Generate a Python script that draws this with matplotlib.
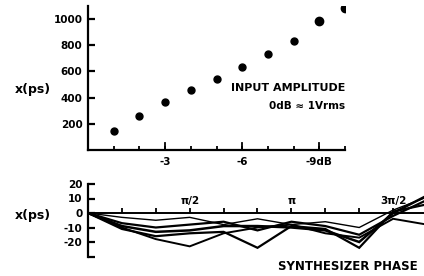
import numpy as np
import matplotlib
matplotlib.use("Agg")
import matplotlib.pyplot as plt

# top panel: delay vs input amplitude
amp_db = [-1, -2, -3, -4, -5, -6, -7, -8, -9, -10]
delay_ps = [144, 258, 365, 456, 540, 631, 730, 829, 988, 1087]
amp_ticks = [-1, -2, -3, -4, -5, -6, -7, -8, -9, -10]
amp_major = [-3, -6, -9]
amp_labels = ["-3", "-6", "-9dB"]
delay_ticks = [200, 400, 600, 800, 1000]

# bottom panel: delay vs synthesizer phase (steps of pi/6)
phase_steps = [0, 1, 2, 3, 4, 5, 6, 7, 8, 9, 10]
phase_lines = [
    [0, -3, -5, -3, -8, -4, -8, -6, -10, 2, 11],
    [0, -7, -10, -8, -6, -12, -6, -9, -15, -2, 9],
    [0, -9, -13, -12, -9, -9, -10, -12, -20, 0, 12],
    [0, -10, -18, -23, -14, -10, -8, -14, -17, -4, -8],
    [0, -11, -16, -14, -13, -24, -9, -11, -24, 1, 6],
]
phase_ticks = list(range(1, 13))
phase_major = [3, 6, 9]
phase_labels = ["π/2", "π", "3π/2"]
jitter_ticks = [20, 10, 0, -10, -20, -30]
jitter_labels = ["20", "10", "0", "-10", "-20", ""]

plt.rcParams["font.family"] = ["DejaVu Sans"]
plt.rcParams["font.weight"] = "bold"

W, H = 424, 276
fig = plt.figure(figsize=(W / 100, H / 100), dpi=100)


def px(x0, y0, x1, y1):
    # pixel box -> figure fraction rect
    return [x0 / W, 1 - y1 / H, (x1 - x0) / W, (y1 - y0) / H]


# ---- top panel
ax1 = fig.add_axes(px(88, 6, 345, 150))
ax1.plot(amp_db[:8], delay_ps[:8], "o", color="black", ms=5)
ax1.plot(amp_db[8:], delay_ps[8:], "o", color="black", ms=6)
ax1.set_xlim(0, -10)
ax1.set_ylim(0, 1100)
for s in ["top", "right"]:
    ax1.spines[s].set_visible(False)
for s in ["left", "bottom"]:
    ax1.spines[s].set_linewidth(1.6)
ax1.set_yticks(delay_ticks)
ax1.tick_params(axis="y", direction="in", length=5, width=1.6, pad=4, labelsize=7.5)
ax1.set_xticks(amp_ticks)
ax1.set_xticklabels([""] * len(amp_ticks))
ax1.tick_params(axis="x", direction="in", length=3, width=1.3)
for t, lab in zip(amp_major, amp_labels):
    ax1.annotate(lab, (t, 0), xytext=(0, -5), textcoords="offset points",
                 ha="center", va="top", fontsize=7.5, fontweight="bold")
    ax1.plot([t, t], [0, 55], color="black", lw=1.3, clip_on=False)
ax1.text(-10, 475, "INPUT AMPLITUDE", ha="right", va="center", fontsize=8,
         fontweight="bold")
ax1.text(-10, 335, "0dB ≈ 1Vrms", ha="right", va="center", fontsize=7.5,
         fontweight="bold")
fig.text(33 / W, 1 - 89 / H, "x(ps)", ha="center", va="center", fontsize=9,
         fontweight="bold")

# ---- bottom panel (axis runs past the right edge of the figure)
ax2 = fig.add_axes(px(88, 184, 88 + 12 * 33.9, 256.5))
for line, lw in zip(phase_lines, [1.0, 1.6, 1.8, 1.4, 1.6]):
    ax2.plot(phase_steps, line, color="black", lw=lw, solid_joinstyle="miter")
ax2.set_xlim(0, 12)
ax2.set_ylim(-30, 20)
for s in ["top", "right"]:
    ax2.spines[s].set_visible(False)
ax2.spines["bottom"].set_position(("data", 0))
ax2.spines["bottom"].set_linewidth(1.4)
ax2.spines["left"].set_linewidth(1.6)
ax2.set_yticks(jitter_ticks)
ax2.set_yticklabels(jitter_labels)
ax2.tick_params(axis="y", direction="in", length=5, width=1.6, pad=4, labelsize=7.5)
ax2.set_xticks(phase_ticks)
ax2.set_xticklabels([""] * len(phase_ticks))
ax2.tick_params(axis="x", direction="in", length=3.5, width=1.3)
for t, lab in zip(phase_major, phase_labels):
    ax2.annotate(lab, (t, 0), xytext=(0, 5), textcoords="offset points",
                 ha="center", va="bottom", fontsize=7.5, fontweight="bold")
fig.text(33 / W, 1 - 215 / H, "x(ps)", ha="center", va="center", fontsize=9,
         fontweight="bold")
fig.text(278 / W, 1 - 266 / H, "SYNTHESIZER PHASE", ha="left", va="center",
         fontsize=8.5, fontweight="bold")

fig.savefig("out.png", dpi=100)
